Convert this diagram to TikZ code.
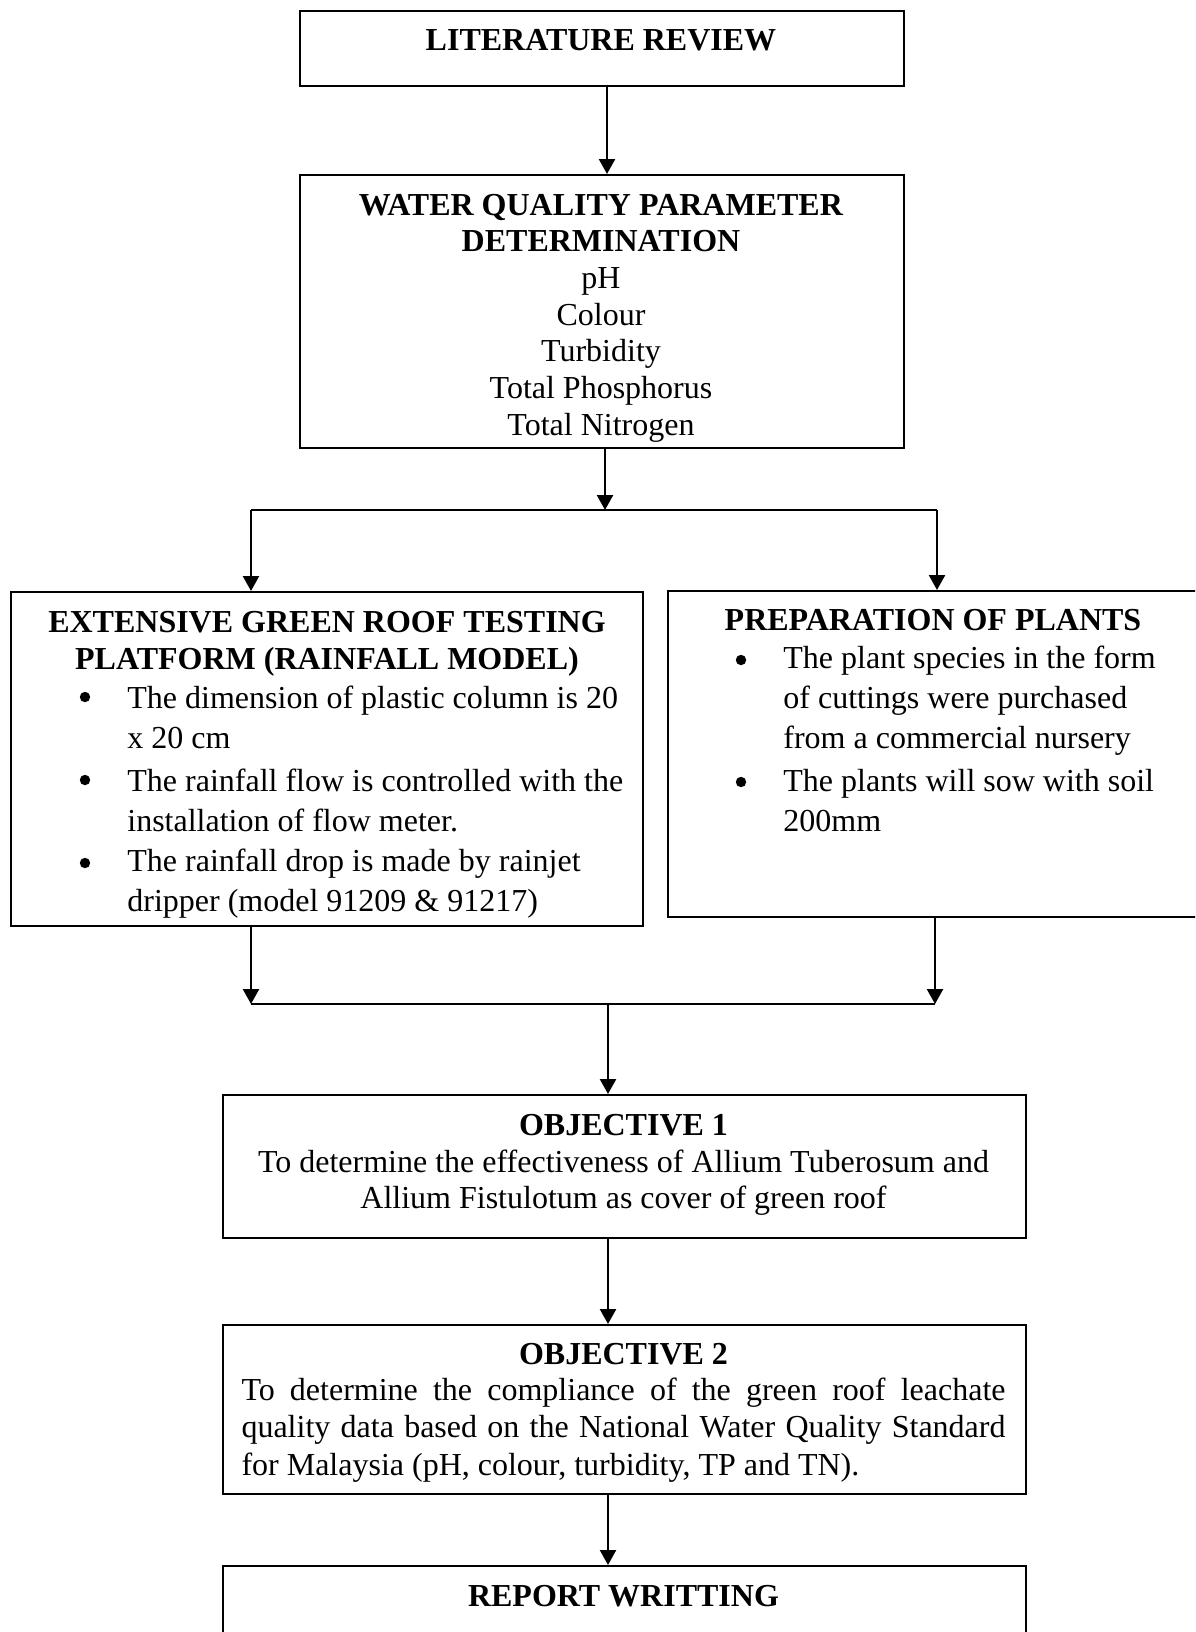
\documentclass[tikz,border=0pt]{standalone}
\usepackage{fontspec}
\setmainfont{Liberation Serif}
\usetikzlibrary{arrows.meta}
\begin{document}
\begin{tikzpicture}[x=0.5pt,y=-0.5pt,
  box/.style={draw, line width=0.8pt, inner sep=0pt, anchor=north west},
  txt/.style={inner sep=0pt, align=center},
  bul/.style={inner sep=0pt, align=left, anchor=west, font=\fontsize{16}{20}\selectfont},
  dot/.style={circle, fill, inner sep=0pt, minimum size=5.2pt},
  arr/.style={line width=1.2pt, -{Triangle[length=7.5pt,width=8pt]}},
  ln/.style={line width=1.2pt}]
\useasboundingbox (0,0) rectangle (1195,1632);
\clip (0,0) rectangle (1195,1632);
\fill[white] (0,0) rectangle (1195,1632);

% boxes
\node[box, minimum width=302pt, minimum height=37.5pt] (lit) at (299,10) {};
\node[box, minimum width=302pt, minimum height=136.5pt] (wq) at (299,174) {};
\node[box, minimum width=316pt, minimum height=167pt] (ext) at (10,591) {};
\node[box, minimum width=266pt, minimum height=163pt] (prep) at (667,590) {};
\node[box, minimum width=401.5pt, minimum height=71.5pt] (obj1) at (222,1094) {};
\node[box, minimum width=401.5pt, minimum height=84.5pt] (obj2) at (222,1324) {};
\node[box, minimum width=401.5pt, minimum height=50pt] (rep) at (222,1565) {};

% texts
\node[txt, font=\fontsize{16}{18.4}\selectfont] (litT) at (601,40) {\textbf{LITERATURE REVIEW}};
\node[txt, font=\fontsize{16}{18.35}\selectfont] (wqT) at (601,318) {\textbf{WATER QUALITY PARAMETER}\\\textbf{DETERMINATION}\\pH\\Colour\\Turbidity\\Total Phosphorus\\Total Nitrogen};

\node[txt, font=\fontsize{16}{18.5}\selectfont] (extT) at (327,644) {\textbf{EXTENSIVE GREEN ROOF TESTING}\\\textbf{PLATFORM (RAINFALL MODEL)}};
\node[dot] (eb1) at (85,697) {};
\node[bul] (e1) at (127,717) {The dimension of plastic column is 20\\x 20 cm};
\node[dot] (eb2) at (85,780) {};
\node[bul] (e2) at (127,800) {The rainfall flow is controlled with the\\installation of flow meter.};
\node[dot] (eb3) at (85,863) {};
\node[bul] (e3) at (127,884) {The rainfall drop is made by rainjet\\dripper (model 91209 \& 91217)};

\node[txt, font=\fontsize{16}{18.4}\selectfont] (prepT) at (933,620) {\textbf{PREPARATION OF PLANTS}};
\node[dot] (pb1) at (741,660) {};
\node[bul] (p1) at (783,701) {The plant species in the form\\of cuttings were purchased\\from a commercial nursery};
\node[dot] (pb2) at (741,782) {};
\node[bul] (p2) at (783,801) {The plants will sow with soil\\200mm};

\node[txt, font=\fontsize{16}{18.25}\selectfont] (o1T) at (623.5,1165) {\textbf{OBJECTIVE 1}\\To determine the effectiveness of Allium Tuberosum and\\Allium Fistulotum as cover of green roof};

\node[txt, font=\fontsize{16}{18.4}\selectfont] (o2H) at (623.5,1354) {\textbf{OBJECTIVE 2}};
\node[inner sep=0pt, text width=382pt, align=justify, font=\fontsize{16}{18.75}\selectfont] (o2T) at (623.5,1430) {\hyphenpenalty=10000 To determine the compliance of the green roof leachate\linebreak quality data based on the National Water Quality Standard\linebreak for Malaysia (pH, colour, turbidity, TP and TN).};

\node[txt, font=\fontsize{16}{18.4}\selectfont] (repT) at (623.5,1596) {\textbf{REPORT WRITTING}};

% connectors
\coordinate (c1) at (607,0);
\draw[arr] (lit.south -| c1) -- (wq.north -| c1);
\coordinate (s) at (605,510);
\coordinate (sl) at (251,510);
\coordinate (sr) at (937,510);
\draw[arr] (wq.south -| s) -- (s);
\draw[ln] (sl) -- (sr);
\draw[arr] (sl) -- (ext.north -| sl);
\draw[arr] (sr) -- (prep.north -| sr);
\coordinate (ml) at (251,1004);
\coordinate (mr) at (935,1004);
\coordinate (m) at (608,1004);
\draw[arr] (ext.south -| ml) -- (ml);
\draw[arr] (prep.south -| mr) -- (mr);
\draw[ln] (ml) -- (mr);
\draw[arr] (m) -- (obj1.north -| m);
\draw[arr] (obj1.south -| m) -- (obj2.north -| m);
\draw[arr] (obj2.south -| m) -- (rep.north -| m);
\end{tikzpicture}
\end{document}
